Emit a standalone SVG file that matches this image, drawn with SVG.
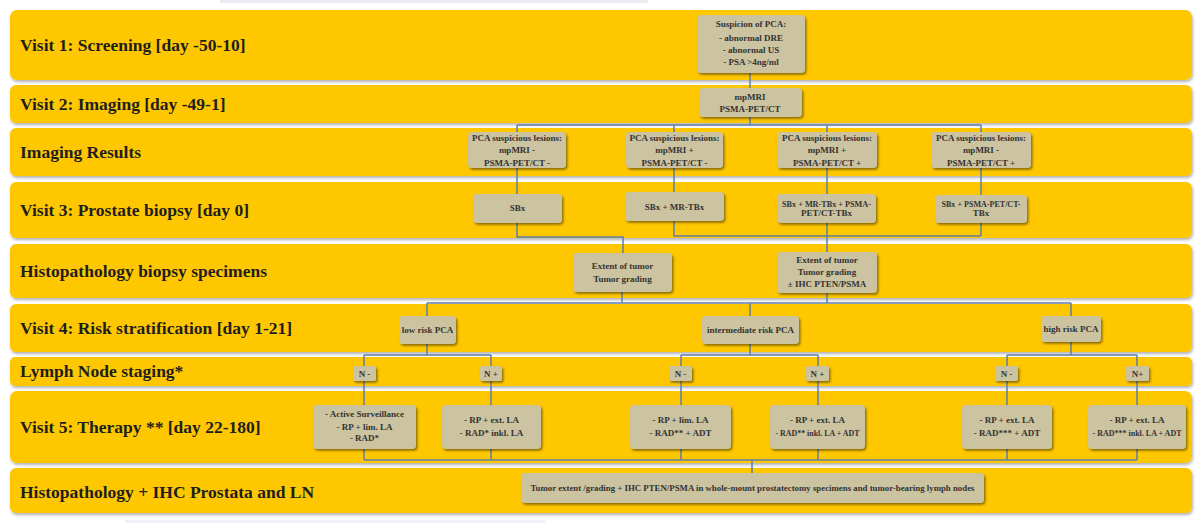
<svg xmlns="http://www.w3.org/2000/svg" width="1200" height="526" viewBox="0 0 1200 526">
<defs>
<filter id="laneShadow" x="-2%" y="-20%" width="104%" height="150%">
<feDropShadow dx="1" dy="2" stdDeviation="1.5" flood-color="#000" flood-opacity="0.3"/>
</filter>
<filter id="nodeShadow" x="-10%" y="-20%" width="125%" height="150%">
<feDropShadow dx="1.5" dy="1.8" stdDeviation="1.2" flood-color="#000" flood-opacity="0.45"/>
</filter>
<style>
.lane{fill:#FFC700;filter:url(#laneShadow);}
.lbl{font-family:"Liberation Serif",serif;font-weight:bold;font-size:17.5px;fill:#1e1e1e;}
.box{fill:#CCC3A0;filter:url(#nodeShadow);}
.t{font-family:"Liberation Serif",serif;font-weight:bold;font-size:9px;fill:#333;text-anchor:middle;}
.c{fill:none;stroke:#5D7FA8;stroke-width:1.5;}
</style>
</defs>
<rect width="1200" height="526" fill="#ffffff"/>
<rect x="220" y="0" width="428" height="3" fill="#e9edf2"/>
<rect x="125" y="520" width="420" height="3" fill="#eef1f5"/>

<g id="lanes">
<g id="lane1"><rect class="lane" x="10" y="10" width="1182" height="70" rx="7"/><text class="lbl" x="20" y="51">Visit 1: Screening [day -50-10]</text></g>
<g id="lane2"><rect class="lane" x="10" y="85" width="1182" height="38" rx="6"/><text class="lbl" x="20" y="110">Visit 2: Imaging [day -49-1]</text></g>
<g id="lane3"><rect class="lane" x="10" y="128" width="1182" height="48" rx="6"/><text class="lbl" x="20" y="158">Imaging Results</text></g>
<g id="lane4"><rect class="lane" x="10" y="182" width="1182" height="56" rx="6"/><text class="lbl" x="20" y="216">Visit 3: Prostate biopsy [day 0]</text></g>
<g id="lane5"><rect class="lane" x="10" y="244" width="1182" height="54" rx="6"/><text class="lbl" x="20" y="277">Histopathology biopsy specimens</text></g>
<g id="lane6"><rect class="lane" x="10" y="304" width="1182" height="48" rx="6"/><text class="lbl" x="20" y="334">Visit 4: Risk stratification [day 1-21]</text></g>
<g id="lane7"><rect class="lane" x="10" y="357" width="1182" height="29" rx="5"/><text class="lbl" x="20" y="377">Lymph Node staging*</text></g>
<g id="lane8"><rect class="lane" x="10" y="391" width="1182" height="72" rx="7"/><text class="lbl" x="20" y="433">Visit 5: Therapy ** [day 22-180]</text></g>
<g id="lane9"><rect class="lane" x="10" y="468" width="1182" height="45" rx="6"/><text class="lbl" x="20" y="498">Histopathology + IHC Prostata and LN</text></g>
</g>

<g id="connectors">
<path class="c" d="M750,73 V88"/>
<path class="c" d="M750,117 V125 M517,125 H981 M517,125 V132 M674,125 V132 M827,125 V132 M981,125 V132"/>
<path class="c" d="M517,168 V194 M674,168 V192 M827,168 V194 M981,168 V195"/>
<path class="c" d="M517,223 V237 H623 V253 M674,221 V236 H981 M981,223 V236 M827,223 V252"/>
<path class="c" d="M622,292 V303 M827,293 V303 M427,303 H1071 M427,303 V316 M750,303 V316 M1071,303 V316"/>
<path class="c" d="M427,344 V355 M364,355 H491 M364,355 V366 M491,355 V366 M750,344 V355 M681,355 H818 M681,355 V366 M818,355 V366 M1071,342 V355 M1007,355 H1137 M1007,355 V366 M1137,355 V366"/>
<path class="c" d="M364,381 V405 M491,381 V405 M681,381 V405 M818,381 V405 M1007,381 V405 M1137,381 V405"/>
<path class="c" d="M364,449 V460 M491,449 V460 M681,449 V460 M818,449 V460 M1007,449 V460 M1137,449 V460 M364,460 H1137 M752,460 V473"/>
</g>

<g id="n-suspicion"><rect class="box" x="697" y="15" width="108" height="58" rx="4"/>
<text class="t" x="751" y="27">Suspicion of PCA:</text><text class="t" x="751" y="40.5">- abnormal DRE</text><text class="t" x="751" y="52.5">- abnormal US</text><text class="t" x="751" y="65">- PSA &gt;4ng/ml</text></g>
<g id="n-imaging"><rect class="box" x="699" y="88" width="103" height="29" rx="4"/>
<text class="t" x="750" y="100">mpMRI</text><text class="t" x="750" y="111.5">PSMA-PET/CT</text></g>

<g id="n-res1"><rect class="box" x="468" y="132" width="98" height="36" rx="4"/>
<text class="t" x="517" y="140.5">PCA suspicious lesions:</text><text class="t" x="517" y="153">mpMRI -</text><text class="t" x="517" y="165.5">PSMA-PET/CT -</text></g>
<g id="n-res2"><rect class="box" x="626" y="132" width="97" height="36" rx="4"/>
<text class="t" x="674.5" y="140.5">PCA suspicious lesions:</text><text class="t" x="674.5" y="153">mpMRI +</text><text class="t" x="674.5" y="165.5">PSMA-PET/CT -</text></g>
<g id="n-res3"><rect class="box" x="777" y="132" width="100" height="36" rx="4"/>
<text class="t" x="827" y="140.5">PCA suspicious lesions:</text><text class="t" x="827" y="153">mpMRI +</text><text class="t" x="827" y="165.5">PSMA-PET/CT +</text></g>
<g id="n-res4"><rect class="box" x="931" y="132" width="100" height="36" rx="4"/>
<text class="t" x="981" y="140.5">PCA suspicious lesions:</text><text class="t" x="981" y="153">mpMRI -</text><text class="t" x="981" y="165.5">PSMA-PET/CT +</text></g>

<g id="n-bx1"><rect class="box" x="473" y="194" width="89" height="29" rx="4"/>
<text class="t" x="517.5" y="211">SBx</text></g>
<g id="n-bx2"><rect class="box" x="625" y="192" width="99" height="29" rx="4"/>
<text class="t" x="674.5" y="210">SBx + MR-TBx</text></g>
<g id="n-bx3"><rect class="box" x="777" y="194" width="99" height="29" rx="4"/>
<text class="t" x="826.5" y="206.5" textLength="89" lengthAdjust="spacingAndGlyphs">SBx + MR-TBx + PSMA-</text><text class="t" x="826.5" y="216">PET/CT-TBx</text></g>
<g id="n-bx4"><rect class="box" x="935" y="195" width="92" height="28" rx="4"/>
<text class="t" x="981" y="207" textLength="79" lengthAdjust="spacingAndGlyphs">SBx + PSMA-PET/CT-</text><text class="t" x="981" y="216">TBx</text></g>

<g id="n-histo1"><rect class="box" x="573" y="253" width="99" height="39" rx="4"/>
<text class="t" x="622.5" y="269">Extent of tumor</text><text class="t" x="622.5" y="281.5">Tumor grading</text></g>
<g id="n-histo2"><rect class="box" x="777" y="252" width="100" height="41" rx="4"/>
<text class="t" x="827" y="262.5">Extent of tumor</text><text class="t" x="827" y="275">Tumor grading</text><text class="t" x="827" y="287">± IHC PTEN/PSMA</text></g>

<g id="n-low"><rect class="box" x="399" y="316" width="57" height="28" rx="4"/>
<text class="t" x="427.5" y="332.5">low risk PCA</text></g>
<g id="n-int"><rect class="box" x="702" y="316" width="97" height="28" rx="4"/>
<text class="t" x="750.5" y="332.5">intermediate risk PCA</text></g>
<g id="n-high"><rect class="box" x="1041" y="316" width="60" height="26" rx="4"/>
<text class="t" x="1071" y="332">high risk PCA</text></g>

<g id="n-n1"><rect class="box" x="353" y="366" width="23" height="15" rx="2"/><text class="t" x="364.5" y="376.5">N -</text></g>
<g id="n-n2"><rect class="box" x="480" y="366" width="22" height="15" rx="2"/><text class="t" x="491" y="376.5">N +</text></g>
<g id="n-n3"><rect class="box" x="669" y="366" width="23" height="15" rx="2"/><text class="t" x="680.5" y="376.5">N -</text></g>
<g id="n-n4"><rect class="box" x="806" y="366" width="23" height="15" rx="2"/><text class="t" x="817.5" y="376.5">N +</text></g>
<g id="n-n5"><rect class="box" x="995" y="366" width="23" height="15" rx="2"/><text class="t" x="1006.5" y="376.5">N -</text></g>
<g id="n-n6"><rect class="box" x="1126" y="366" width="23" height="15" rx="2"/><text class="t" x="1137.5" y="376.5">N+</text></g>

<g id="n-th1"><rect class="box" x="313" y="405" width="103" height="44" rx="4"/>
<text class="t" x="364.5" y="417">- Active Surveillance</text><text class="t" x="364.5" y="430">- RP + lim. LA</text><text class="t" x="364.5" y="441">- RAD*</text></g>
<g id="n-th2"><rect class="box" x="442" y="405" width="99" height="44" rx="4"/>
<text class="t" x="491.5" y="423">- RP + ext. LA</text><text class="t" x="491.5" y="436">- RAD* inkl. LA</text></g>
<g id="n-th3"><rect class="box" x="630" y="405" width="101" height="44" rx="4"/>
<text class="t" x="680.5" y="423">- RP + lim.  LA</text><text class="t" x="680.5" y="436">- RAD** + ADT</text></g>
<g id="n-th4"><rect class="box" x="770" y="405" width="95" height="44" rx="4"/>
<text class="t" x="817.5" y="423">- RP + ext. LA</text><text class="t" x="817.5" y="436" textLength="84" lengthAdjust="spacingAndGlyphs">- RAD** inkl. LA + ADT</text></g>
<g id="n-th5"><rect class="box" x="962" y="405" width="90" height="44" rx="4"/>
<text class="t" x="1007" y="423">- RP + ext. LA</text><text class="t" x="1007" y="436">- RAD*** + ADT</text></g>
<g id="n-th6"><rect class="box" x="1088" y="405" width="98" height="44" rx="4"/>
<text class="t" x="1137" y="423">- RP + ext. LA</text><text class="t" x="1137" y="436" textLength="89" lengthAdjust="spacingAndGlyphs">- RAD*** inkl. LA + ADT</text></g>

<g id="n-final"><rect class="box" x="521" y="473" width="463" height="30" rx="4"/>
<text class="t" x="752.5" y="491" textLength="444" lengthAdjust="spacingAndGlyphs">Tumor extent /grading + IHC PTEN/PSMA in whole-mount prostatectomy specimens and tumor-bearing lymph nodes</text></g>
</svg>
